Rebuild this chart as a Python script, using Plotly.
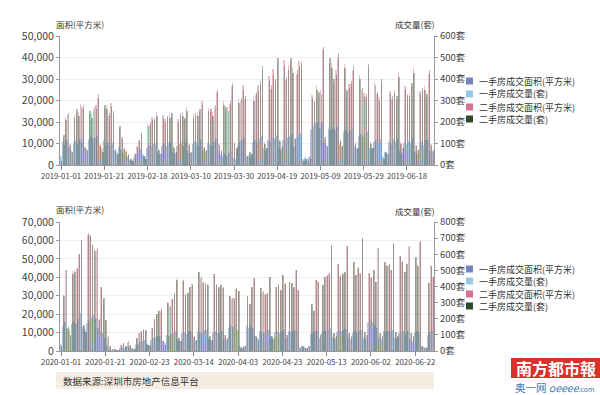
import pandas as pd
import plotly.graph_objects as go

# ---------------- data ----------------
series_names = ["一手房成交面积(平方米)", "一手房成交量(套)", "二手房成交面积(平方米)", "二手房成交量(套)"]
series_colors = ["#7683bd", "#96c8e8", "#d7718f", "#2d4a2a"]

# 2019 H1 (registration center closed 2019-02-04 .. 2019-02-11)
dates_2019 = [d.strftime("%Y-%m-%d") for d in pd.date_range("2019-01-01", "2019-06-30")
              if not (pd.Timestamp("2019-02-04") <= d <= pd.Timestamp("2019-02-11"))]
# 2020 H1 (closed 2020-01-24 .. 2020-02-05)
dates_2020 = [d.strftime("%Y-%m-%d") for d in pd.date_range("2020-01-01", "2020-06-30")
              if not (pd.Timestamp("2020-01-24") <= d <= pd.Timestamp("2020-02-05"))]

new_area_2019 = [
    3900, 10200, 9100, 11800, 8300, 6200, 9800, 11200, 9300, 12100,
    10700, 8200, 6900, 11600, 13200, 12500, 12700, 13600, 8900, 7500,
    11300, 9500, 10200, 8800, 9900, 6300, 5600, 8200, 7100, 5400,
    4200, 3600, 2300, 1800, 3200, 5100, 6300, 7400, 4600, 3800,
    8100, 9200, 8300, 9600, 9800, 5500, 5200, 8800, 9700, 8500,
    9900, 10400, 6100, 5300, 8800, 9600, 9900, 8700, 10600, 6500,
    5400, 9600, 10500, 9800, 8900, 11600, 6400, 5200, 9900, 9300,
    8800, 10600, 11900, 6100, 4600, 3900, 5200, 4300, 5500, 6600,
    3300, 2800, 8900, 10500, 11600, 12400, 3800, 4200, 3700, 10900,
    11600, 10400, 11800, 13200, 7600, 6500, 11400, 10800, 12500, 11900,
    13500, 8100, 6900, 11800, 11200, 12600, 12900, 13800, 8400, 12300,
    13400, 14500, 2800, 3300, 2700, 3600, 16500, 17800, 19600, 18700,
    17200, 19800, 10400, 8800, 16900, 15600, 17400, 16200, 17900, 9400,
    8600, 15200, 16400, 14800, 15900, 16600, 8500, 7400, 13500, 14200,
    12800, 13900, 15400, 8000, 7100, 10600, 11800, 9900, 11500, 3600,
    5600, 5100, 10900, 9800, 11600, 10400, 11900, 6600, 5500, 10400,
    9500, 10900, 9800, 12500, 6100, 5200, 9400, 10600, 8900, 11500,
    11800, 6600, 5600]
new_count_2019 = [
    40, 110, 95, 120, 85, 70, 105, 115, 100, 125,
    110, 90, 75, 120, 135, 125, 130, 140, 95, 80,
    115, 100, 110, 95, 105, 70, 60, 90, 75, 60,
    45, 40, 25, 20, 35, 55, 70, 80, 50, 40,
    85, 95, 90, 100, 105, 60, 55, 95, 100, 90,
    105, 110, 65, 60, 95, 100, 105, 90, 115, 70,
    60, 100, 110, 105, 95, 120, 70, 55, 105, 100,
    95, 110, 125, 65, 50, 40, 55, 45, 60, 70,
    35, 30, 95, 110, 120, 130, 40, 45, 40, 115,
    120, 110, 125, 140, 80, 70, 120, 115, 130, 125,
    140, 85, 75, 125, 120, 130, 135, 145, 90, 130,
    140, 150, 30, 35, 30, 40, 170, 185, 200, 195,
    180, 205, 110, 95, 175, 165, 180, 170, 185, 100,
    90, 160, 170, 155, 165, 175, 90, 80, 140, 150,
    135, 145, 160, 85, 75, 110, 125, 105, 120, 40,
    60, 55, 115, 105, 120, 110, 125, 70, 60, 110,
    100, 115, 105, 130, 65, 55, 100, 110, 95, 120,
    125, 70, 60]
resale_area_2019 = [
    1800, 12800, 22500, 23100, 9600, 5400, 23400, 24800, 24100, 28300,
    26500, 8600, 6300, 23800, 23500, 25600, 27900, 31200, 9800, 5200,
    26400, 27500, 22600, 28700, 23800, 7600, 4400, 17200, 12900, 7300,
    6500, 4600, 2900, 2100, 5400, 8300, 11800, 14200, 4300, 2600,
    19200, 18800, 22400, 20900, 24600, 7500, 4600, 23300, 21400, 21900,
    23500, 22800, 8700, 5500, 21300, 22600, 24700, 20800, 26800, 9700,
    5600, 23500, 22700, 24600, 24700, 29800, 8600, 6600, 26700, 24800,
    24500, 26600, 33800, 9600, 6500, 29600, 25700, 26800, 28600, 36900,
    10800, 7500, 30800, 29600, 37400, 30600, 4300, 5600, 5400, 31900,
    32500, 37200, 37400, 43800, 10700, 7600, 41600, 35500, 44600, 38400,
    47800, 11800, 8600, 48700, 39400, 46500, 48200, 45400, 12800, 42200,
    48500, 46300, 2200, 2800, 2100, 3200, 32600, 28900, 37100, 32600,
    34900, 53400, 12800, 8600, 47600, 47400, 38600, 44300, 49800, 11600,
    8700, 47200, 33800, 37900, 37600, 44200, 10600, 7600, 41800, 34900,
    33600, 31800, 45300, 10500, 7700, 38800, 32900, 31500, 38600, 3200,
    6300, 4800, 34600, 30900, 34700, 30800, 43200, 10600, 7700, 36700,
    31900, 33600, 36700, 45100, 9500, 6800, 34600, 34800, 36700, 31800,
    42400, 9600, 6700]
resale_count_2019 = [
    20, 140, 210, 240, 90, 60, 220, 260, 230, 270,
    280, 80, 70, 250, 220, 270, 260, 330, 90, 60,
    280, 260, 240, 270, 250, 70, 50, 180, 120, 80,
    60, 50, 30, 20, 50, 90, 110, 150, 40, 30,
    180, 200, 210, 220, 230, 70, 50, 220, 200, 230,
    220, 240, 80, 60, 200, 240, 230, 220, 250, 90,
    60, 220, 240, 230, 260, 280, 80, 70, 250, 260,
    230, 280, 350, 90, 70, 280, 270, 250, 300, 380,
    100, 80, 290, 310, 350, 320, 40, 60, 50, 300,
    340, 350, 390, 460, 100, 80, 390, 370, 420, 400,
    500, 110, 90, 460, 410, 440, 500, 430, 120, 440,
    460, 480, 20, 30, 20, 30, 310, 300, 350, 340,
    330, 550, 120, 90, 500, 450, 400, 420, 520, 110,
    90, 450, 350, 360, 390, 460, 100, 80, 400, 360,
    320, 330, 470, 100, 80, 370, 340, 300, 400, 30,
    60, 50, 330, 320, 330, 320, 410, 100, 80, 350,
    330, 320, 380, 430, 90, 70, 330, 360, 350, 330,
    440, 90, 70]

new_area_2020 = [
    3600, 13800, 15600, 12100, 11200, 14500, 15800, 14600, 17400, 20800,
    13200, 11700, 15200, 16400, 18600, 19300, 17100, 12600, 10800, 9600,
    7100, 3400, 1300, 400, 500, 300, 200, 1800, 2100, 1700,
    2600, 2200, 1300, 900, 3100, 3800, 4900, 5200, 6100, 3900,
    3500, 6200, 7100, 7400, 8100, 8300, 5200, 4300, 8900, 8200,
    9300, 9600, 10700, 6100, 5200, 9800, 10100, 9200, 10600, 11100,
    6600, 5700, 10600, 10100, 9700, 11200, 11400, 7100, 6100, 10200,
    10600, 9600, 9300, 11100, 6600, 6100, 12400, 14100, 13200, 14600,
    11500, 2600, 2200, 2600, 13700, 12300, 13400, 12700, 7900, 7100,
    10600, 10100, 9700, 11100, 11400, 7500, 6600, 10100, 10700, 9600,
    11100, 11400, 7100, 10600, 10100, 11100, 11400, 10700, 2200, 2600,
    2200, 1800, 2600, 9200, 9700, 10700, 11100, 7100, 9600, 10700,
    11000, 11600, 12300, 7500, 6600, 10100, 10700, 11000, 11600, 11900,
    7500, 6600, 9700, 10700, 10100, 11100, 11400, 7100, 6600, 15100,
    16800, 15500, 14100, 12400, 7500, 6600, 10600, 10100, 11100, 10500,
    11500, 7100, 6600, 9700, 10100, 10700, 9200, 11100, 6600, 5700,
    9700, 10600, 10100, 2600, 2200, 2200, 8800, 10100, 10600]
new_count_2020 = [
    40, 150, 170, 140, 130, 160, 175, 165, 190, 230,
    150, 135, 170, 180, 200, 210, 190, 140, 120, 110,
    80, 40, 15, 5, 5, 3, 3, 20, 25, 20,
    30, 25, 15, 10, 35, 45, 55, 60, 70, 45,
    40, 70, 80, 85, 90, 95, 60, 50, 100, 95,
    105, 110, 120, 70, 60, 110, 115, 105, 120, 125,
    75, 65, 120, 115, 110, 125, 130, 80, 70, 115,
    120, 110, 105, 125, 75, 70, 140, 160, 150, 165,
    130, 30, 25, 30, 155, 140, 150, 145, 90, 80,
    120, 115, 110, 125, 130, 85, 75, 115, 120, 110,
    125, 130, 80, 120, 115, 125, 130, 120, 25, 30,
    25, 20, 30, 105, 110, 120, 125, 80, 110, 120,
    125, 130, 140, 85, 75, 115, 120, 125, 130, 135,
    85, 75, 110, 120, 115, 125, 130, 80, 75, 170,
    190, 175, 160, 140, 85, 75, 120, 115, 125, 120,
    130, 80, 75, 110, 115, 120, 105, 125, 75, 65,
    110, 120, 115, 30, 25, 25, 100, 115, 120]
resale_area_2020 = [
    2400, 30500, 43800, 12600, 8300, 43200, 44100, 45300, 52600, 59800,
    13700, 9900, 63200, 62400, 57800, 55100, 54600, 16800, 34900, 27600,
    16800, 7400, 2600, 800, 1200, 400, 400, 3500, 4200, 2600,
    5100, 3300, 1700, 900, 6800, 9600, 10700, 11800, 10900, 3400,
    2700, 12600, 17300, 19800, 22100, 21900, 5300, 3400, 26700, 24100,
    28300, 30600, 38900, 6900, 5400, 37800, 30900, 31600, 34300, 36200,
    7800, 6100, 42700, 39600, 37200, 35900, 36400, 7700, 6200, 41600,
    36200, 34300, 36100, 34400, 8700, 6900, 29800, 28200, 28600, 33900,
    32600, 1700, 1800, 2500, 29400, 25600, 34300, 39800, 7800, 6100,
    34100, 31600, 30900, 31200, 40100, 7900, 6800, 34800, 36100, 32600,
    41400, 36300, 8700, 37600, 36800, 34200, 44100, 32900, 1700, 2600,
    1800, 1700, 2600, 25100, 22200, 38400, 37300, 8700, 35900, 40200,
    40600, 42300, 57100, 9600, 7800, 47300, 40200, 42400, 42100, 56800,
    9600, 7800, 47700, 41300, 45100, 42300, 60600, 10500, 8600, 42200,
    39600, 43800, 37300, 55900, 9600, 7900, 47800, 46600, 46800, 43800,
    58200, 10400, 7800, 51600, 48300, 43100, 46800, 56700, 9600, 7800,
    50400, 46400, 59100, 2600, 1700, 1800, 36800, 46100, 40200]
resale_count_2020 = [
    30, 340, 500, 150, 100, 480, 490, 510, 600, 690,
    160, 120, 730, 720, 660, 620, 640, 200, 400, 330,
    190, 90, 30, 10, 15, 5, 5, 40, 50, 30,
    60, 40, 20, 10, 80, 110, 120, 130, 130, 40,
    30, 140, 200, 230, 250, 260, 60, 40, 300, 280,
    320, 360, 440, 80, 60, 440, 350, 360, 400, 410,
    90, 70, 490, 460, 420, 420, 410, 90, 70, 480,
    410, 400, 410, 400, 100, 80, 340, 330, 320, 390,
    370, 20, 20, 30, 340, 290, 400, 450, 90, 70,
    390, 370, 350, 360, 460, 90, 80, 400, 410, 380,
    470, 420, 100, 430, 420, 400, 500, 380, 20, 30,
    20, 20, 30, 290, 250, 440, 430, 100, 410, 460,
    470, 480, 660, 110, 90, 540, 470, 480, 490, 650,
    110, 90, 550, 470, 520, 480, 700, 120, 100, 480,
    460, 500, 430, 640, 110, 90, 550, 530, 540, 500,
    670, 120, 90, 590, 560, 490, 540, 650, 110, 90,
    580, 530, 680, 30, 20, 20, 420, 530, 460]

for arr in (new_area_2019, new_count_2019, resale_area_2019, resale_count_2019):
    assert len(arr) == len(dates_2019), (len(arr), len(dates_2019))
for arr in (new_area_2020, new_count_2020, resale_area_2020, resale_count_2020):
    assert len(arr) == len(dates_2020), (len(arr), len(dates_2020))

area_ticks_2019 = [0, 10000, 20000, 30000, 40000, 50000, 60000]
area_ticktext_2019 = ["0", "10,000", "30,000", "20,000", "30,000", "40,000", "50,000"]
count_ticks_2019 = [0, 100, 200, 300, 400, 500, 600]
area_ticks_2020 = [0, 10000, 20000, 30000, 40000, 50000, 60000, 70000]
count_ticks_2020 = [0, 100, 200, 300, 400, 500, 600, 700, 800]

# ---------------- figure ----------------
W, H = 600, 395
FONT = "Noto Sans CJK SC, Noto Sans, sans-serif"
fig = go.Figure()

def px_x(v):
    return v / W

def px_y(v):
    return 1 - v / H

bar_width = 0.17
bar_offsets = [-0.40, -0.19, 0.02, 0.23]
bar_opacity = [0.5, 0.55, 0.45, 0.38]

panels = [
    dict(dates=dates_2019, vals=[new_area_2019, new_count_2019, resale_area_2019, resale_count_2019],
         xa="x", ya_l="y", ya_r="y2"),
    dict(dates=dates_2020, vals=[new_area_2020, new_count_2020, resale_area_2020, resale_count_2020],
         xa="x2", ya_l="y3", ya_r="y4"),
]
for p in panels:
    for i, (name, col, v) in enumerate(zip(series_names, series_colors, p["vals"])):
        fig.add_trace(go.Bar(
            x=p["dates"], y=v, name=name, showlegend=False,
            xaxis=p["xa"], yaxis=p["ya_l"] if i % 2 == 0 else p["ya_r"],
            width=bar_width, offset=bar_offsets[i], opacity=bar_opacity[i],
            marker=dict(color=col, line=dict(width=0)),
        ))

xdom = [px_x(60), px_x(434)]
top_dom = [px_y(165), px_y(36)]
bot_dom = [px_y(351), px_y(222)]

common_x = dict(type="category", tickmode="array", ticks="outside", ticklen=4, tickcolor="#888",
                showline=True, linecolor="#999", linewidth=1, showgrid=False, tickangle=0,
                automargin=False, tickfont=dict(size=7.8, color="#444", family=FONT))
common_y = dict(ticks="outside", ticklen=3, tickcolor="#999", showline=True, linecolor="#999",
                linewidth=1, zeroline=False, tickmode="array", automargin=False)

fig.update_layout(
    width=W, height=H, autosize=False,
    margin=dict(l=0, r=0, t=0, b=0, autoexpand=False),
    paper_bgcolor="white", plot_bgcolor="white",
    barmode="overlay", bargap=0,
    font=dict(family=FONT, color="#333"),
    xaxis=dict(domain=xdom, anchor="y", range=[-0.5, len(dates_2019) - 0.5],
               tickvals=dates_2019[::20], ticktext=dates_2019[::20], **common_x),
    yaxis=dict(domain=top_dom, anchor="x", range=[0, 60000], tickvals=area_ticks_2019,
               ticktext=area_ticktext_2019, showgrid=True, gridcolor="#ededed",
               tickfont=dict(size=10.5, color="#444"), **common_y),
    yaxis2=dict(overlaying="y", anchor="x", side="right", range=[0, 600], tickvals=count_ticks_2019,
                ticktext=[f"{v}套" for v in count_ticks_2019], showgrid=False,
                tickfont=dict(size=9.5, color="#444"), **common_y),
    xaxis2=dict(domain=xdom, anchor="y3", range=[-0.5, len(dates_2020) - 0.5],
                tickvals=dates_2020[::20], ticktext=dates_2020[::20], **common_x),
    yaxis3=dict(domain=bot_dom, anchor="x2", range=[0, 70000], tickvals=area_ticks_2020,
                ticktext=[f"{v:,}" for v in area_ticks_2020], showgrid=True, gridcolor="#ededed",
                tickfont=dict(size=10.5, color="#444"), **common_y),
    yaxis4=dict(overlaying="y3", anchor="x2", side="right", range=[0, 800], tickvals=count_ticks_2020,
                ticktext=[f"{v}套" for v in count_ticks_2020], showgrid=False,
                tickfont=dict(size=9.5, color="#444"), **common_y),
)

annotations = []
shapes = []
# axis titles
for ytitle_l, ytitle_r in [(24, 24), (209, 211)]:
    annotations.append(dict(text="面积(平方米)", x=px_x(54), y=px_y(ytitle_l), xref="paper", yref="paper",
                            xanchor="left", yanchor="middle", showarrow=False,
                            font=dict(size=8.5, color="#333")))
    annotations.append(dict(text="成交量(套)", x=px_x(437), y=px_y(ytitle_r), xref="paper", yref="paper",
                            xanchor="right", yanchor="middle", showarrow=False,
                            font=dict(size=8.5, color="#333")))

# legends (one per panel)
for ys in ([81, 94, 107, 119], [269, 281, 294, 306]):
    for name, col, yy in zip(series_names, series_colors, ys):
        shapes.append(dict(type="rect", xref="paper", yref="paper",
                           x0=px_x(466), x1=px_x(473), y0=px_y(yy + 3.5), y1=px_y(yy - 3.5),
                           fillcolor=col, line=dict(width=0)))
        annotations.append(dict(text=name, x=px_x(477), y=px_y(yy), xref="paper", yref="paper",
                                xanchor="left", yanchor="middle", showarrow=False,
                                font=dict(size=9, color="#333")))

# source band
shapes.append(dict(type="rect", xref="paper", yref="paper", x0=px_x(56), x1=px_x(434),
                   y0=px_y(389), y1=px_y(372), fillcolor="#f3ede2", line=dict(width=0), layer="below"))
annotations.append(dict(text="数据来源:深圳市房地产信息平台", x=px_x(61), y=px_y(380.5), xref="paper", yref="paper",
                        xanchor="left", yanchor="middle", showarrow=False, font=dict(size=9.5, color="#333")))

# newspaper logo
shapes.append(dict(type="rect", xref="paper", yref="paper", x0=px_x(511), x1=px_x(600),
                   y0=px_y(378), y1=px_y(358), fillcolor="#d9302b", line=dict(width=0)))
annotations.append(dict(text="<b>南方都市報</b>", x=px_x(556), y=px_y(368), xref="paper", yref="paper",
                        xanchor="center", yanchor="middle", showarrow=False,
                        font=dict(size=16, color="white")))
annotations.append(dict(text="奥一网 <i>oeeee</i><span style='font-size:7px'>.com</span>",
                        x=px_x(513), y=px_y(387), xref="paper", yref="paper",
                        xanchor="left", yanchor="middle", showarrow=False,
                        font=dict(size=10.5, color="#3d78b8")))

fig.update_layout(annotations=annotations, shapes=shapes)
fig.write_html("out.html")
